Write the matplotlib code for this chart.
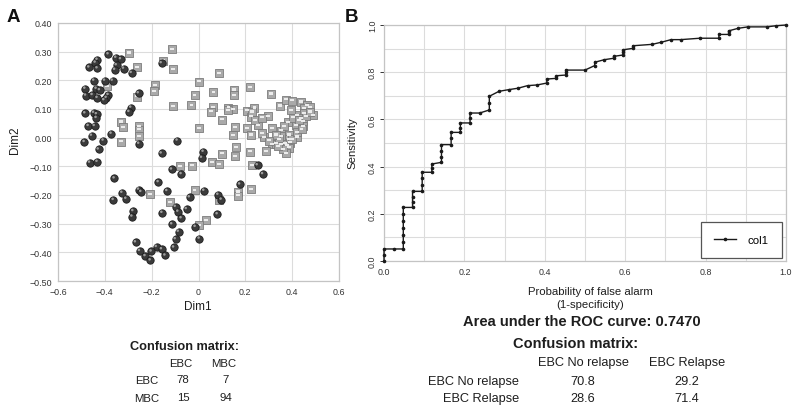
import matplotlib
matplotlib.use("Agg")
import matplotlib.pyplot as plt
from matplotlib.markers import MarkerStyle
from matplotlib.transforms import Affine2D

plt.rcParams['font.family'] = ['Liberation Sans', 'DejaVu Sans']

# ---------------- Panel A data ----------------
ebc_x = [-0.385, -0.352, -0.332, -0.432, -0.440, -0.467, -0.432, -0.350, -0.357, -0.319,
         -0.286, -0.158, -0.446, -0.400, -0.367, -0.484, -0.436, -0.422, -0.481, -0.453,
         -0.432, -0.385, -0.393, -0.403, -0.288, -0.296, -0.256, -0.484, -0.447, -0.435,
         -0.436, -0.470, -0.444, -0.456, -0.372, -0.487, -0.406, -0.427, -0.464, -0.432,
         -0.254, -0.090, -0.158, -0.359, -0.114, -0.073, 0.021, 0.014, 0.252, 0.275,
         0.177, -0.171, -0.326, -0.309, -0.363, -0.255, -0.245, -0.134, 0.024, -0.038,
         0.084, 0.098, 0.081, -0.155, -0.098, -0.087, -0.073, -0.051, -0.279, -0.283,
         -0.113, -0.085, -0.013, 0.004, -0.098, -0.105, -0.268, -0.251, -0.179, -0.157,
         -0.142, -0.201, -0.227, -0.205]
ebc_y = [0.291, 0.279, 0.274, 0.272, 0.262, 0.245, 0.242, 0.253, 0.237, 0.241,
         0.226, 0.260, 0.199, 0.199, 0.199, 0.171, 0.171, 0.166, 0.147, 0.149,
         0.139, 0.149, 0.139, 0.131, 0.105, 0.090, 0.155, 0.085, 0.087, 0.082,
         0.069, 0.041, 0.041, 0.007, 0.014, -0.015, -0.010, -0.041, -0.087, -0.084,
         -0.021, -0.010, -0.055, -0.142, -0.111, -0.127, -0.049, -0.070, -0.096, -0.127,
         -0.163, -0.155, -0.192, -0.213, -0.217, -0.181, -0.189, -0.186, -0.185, -0.208,
         -0.199, -0.216, -0.267, -0.262, -0.241, -0.258, -0.281, -0.249, -0.256, -0.275,
         -0.302, -0.328, -0.311, -0.352, -0.354, -0.383, -0.365, -0.395, -0.381, -0.389,
         -0.411, -0.397, -0.413, -0.428]

mbc_x = [-0.295, -0.114, -0.151, -0.261, -0.110, 0.088, -0.389, -0.184, -0.191, 0.003,
         -0.017, -0.261, 0.064, 0.152, 0.152, 0.221, 0.309, -0.108, -0.030, 0.061,
         0.053, 0.128, 0.148, 0.209, 0.239, 0.224, 0.295, 0.348, 0.373, 0.400,
         0.437, 0.464, 0.476, 0.489, 0.452, 0.419, 0.450, 0.439, 0.447, 0.382,
         0.416, 0.446, -0.330, -0.322, -0.254, -0.254, -0.256, -0.330, 0.003, 0.101,
         0.157, 0.208, 0.255, 0.224, 0.148, 0.281, 0.315, 0.352, 0.352, 0.386,
         0.419, 0.387, 0.312, 0.332, 0.352, 0.369, 0.392, 0.378, 0.385, 0.375,
         0.288, 0.162, 0.157, 0.219, 0.100, 0.058, 0.087, -0.080, -0.028, 0.228,
         0.224, 0.167, 0.170, -0.017, -0.209, -0.120, 0.087, 0.031, 0.004,
         0.395, 0.405, 0.430, 0.460, 0.475, 0.365, 0.345, 0.330, 0.400, 0.420,
         0.440, 0.360, 0.340, 0.300, 0.270, 0.240, 0.230, 0.125, 0.270]
mbc_y = [0.296, 0.308, 0.268, 0.246, 0.239, 0.225, 0.179, 0.184, 0.163, 0.195,
         0.148, 0.143, 0.159, 0.167, 0.148, 0.176, 0.153, 0.110, 0.114, 0.107,
         0.091, 0.105, 0.099, 0.094, 0.104, 0.073, 0.075, 0.111, 0.133, 0.129,
         0.125, 0.114, 0.107, 0.079, 0.103, 0.079, 0.085, 0.068, 0.057, 0.054,
         0.043, 0.040, 0.055, 0.036, 0.040, 0.028, 0.005, -0.014, 0.033, 0.063,
         0.037, 0.033, 0.043, 0.010, 0.008, 0.002, 0.033, 0.024, 0.005, 0.010,
         0.003, -0.006, -0.023, -0.021, -0.022, -0.021, -0.017, -0.028, -0.035, -0.054,
         -0.047, -0.033, -0.065, -0.049, -0.056, -0.086, -0.093, -0.100, -0.098, -0.096,
         -0.180, -0.189, -0.202, -0.183, -0.198, -0.226, -0.216, -0.288, -0.305,
         0.095, 0.070, 0.060, 0.075, 0.090, 0.040, -0.005, 0.010, -0.005, 0.020,
         0.030, -0.040, -0.030, -0.010, 0.015, 0.060, 0.090, 0.095, 0.070]

a_xticks = [-0.6, -0.4, -0.2, 0.0, 0.2, 0.4, 0.6]
a_xticklabels = ['\u22120.6', '\u22120.4', '\u22120.2', '0', '0.2', '0.4', '0.6']
a_yticks = [0.40, 0.30, 0.20, 0.10, 0.00, -0.10, -0.20, -0.30, -0.40, -0.50]
a_yticklabels = ['0.40', '0.30', '0.20', '0.10', '0.00', '\u22120.10', '\u22120.20',
                 '\u22120.30', '\u22120.40', '\u22120.50']

cmA_cols = ['EBC', 'MBC']
cmA_rows = ['EBC', 'MBC']
cmA_vals = [['78', '7'], ['15', '94']]

# ---------------- Panel B data ----------------
roc_fpr = [0.0, 0.0, 0.0, 0.024, 0.048, 0.048, 0.048, 0.048, 0.048, 0.048, 0.048,
           0.071, 0.071, 0.071, 0.071, 0.095, 0.095, 0.095, 0.095, 0.119, 0.119, 0.119,
           0.143, 0.143, 0.143, 0.143, 0.167, 0.167, 0.167, 0.190, 0.190, 0.190,
           0.214, 0.214, 0.214, 0.238, 0.262, 0.262, 0.262, 0.286, 0.310, 0.333,
           0.357, 0.381, 0.405, 0.405, 0.429, 0.429, 0.452, 0.452, 0.452, 0.500,
           0.524, 0.524, 0.548, 0.571, 0.571, 0.595, 0.595, 0.595, 0.619, 0.619,
           0.667, 0.690, 0.714, 0.738, 0.786, 0.833, 0.833, 0.857, 0.857, 0.881,
           0.905, 0.952, 0.976, 1.0]
roc_tpr = [0.0, 0.025, 0.051, 0.051, 0.051, 0.08, 0.11, 0.14, 0.17, 0.20, 0.227,
           0.227, 0.25, 0.27, 0.295, 0.295, 0.32, 0.35, 0.376, 0.376, 0.393, 0.411,
           0.418, 0.44, 0.465, 0.493, 0.493, 0.52, 0.545, 0.545, 0.565, 0.585,
           0.585, 0.605, 0.627, 0.627, 0.640, 0.67, 0.698, 0.719, 0.726, 0.732,
           0.743, 0.746, 0.754, 0.771, 0.774, 0.785, 0.788, 0.80, 0.809, 0.809,
           0.828, 0.842, 0.853, 0.859, 0.867, 0.873, 0.885, 0.895, 0.901, 0.912,
           0.918, 0.927, 0.938, 0.938, 0.944, 0.944, 0.960, 0.960, 0.975, 0.986,
           0.992, 0.992, 0.997, 1.0]
b_ticks = [0.0, 0.2, 0.4, 0.6, 0.8, 1.0]
b_ticklabels = ['0.0', '0.2', '0.4', '0.6', '0.8', '1.0']
b_minor = [0.1, 0.3, 0.5, 0.7, 0.9]
auc_text = 'Area under the ROC curve: 0.7470'
cmB_cols = ['EBC No relapse', 'EBC Relapse']
cmB_rows = ['EBC No relapse', 'EBC Relapse']
cmB_vals = [['70.8', '29.2'], ['28.6', '71.4']]

# ---------------- Figure ----------------
W, H = 800, 414
fig = plt.figure(figsize=(W / 100, H / 100), dpi=100)
fig.patch.set_facecolor('white')


def fx(px):
    return px / W


def fy(py):
    return 1 - py / H


grid_c = '#dcdcdc'
spine_c = '#c4c4c4'
txt_c = '#1e1e1e'

# ----- Panel A -----
axA = fig.add_axes([fx(58), fy(282), fx(339) - fx(58), fy(24) - fy(282)])
axA.set_xlim(-0.6, 0.6)
axA.set_ylim(-0.5, 0.4)
axA.set_xticks(a_xticks)
axA.set_xticklabels(a_xticklabels)
axA.set_yticks(a_yticks)
axA.set_yticklabels(a_yticklabels)
axA.tick_params(length=0, labelsize=6.4, colors='#333333', pad=4)
axA.grid(True, color=grid_c, lw=0.8)
axA.set_axisbelow(True)
for s in axA.spines.values():
    s.set_color(spine_c)
    s.set_linewidth(0.9)

# MBC squares
axA.scatter(mbc_x, mbc_y, s=26, marker='s', facecolor='#a9a9a9', edgecolor='#7c7c7c',
            linewidths=0.6, zorder=3)
hl_sq = MarkerStyle('s', transform=Affine2D().scale(0.55, 0.3).translate(0, 0.05))
axA.scatter(mbc_x, mbc_y, s=26, marker=hl_sq, facecolor='#ececec', edgecolor='none',
            zorder=4)
# EBC spheres
axA.scatter(ebc_x, ebc_y, s=28, marker='o', facecolor='#3b3b3b', edgecolor='#1c1c1c',
            linewidths=0.6, zorder=5)
hl_o = MarkerStyle('o', transform=Affine2D().scale(0.35).translate(-0.12, 0.14))
axA.scatter(ebc_x, ebc_y, s=28, marker=hl_o, facecolor='#9c9c9c', edgecolor='none',
            zorder=6)

fig.text(fx(13), fy(17), 'A', fontsize=13.5, fontweight='bold', ha='center', va='center',
         color='#111111')
fig.text(fx(15), fy(140), 'Dim2', fontsize=8.5, rotation=90, ha='center', va='center',
         color=txt_c)
fig.text(fx(198), fy(307), 'Dim1', fontsize=8.5, ha='center', va='center', color=txt_c)

fig.text(fx(185), fy(347), 'Confusion matrix:', fontsize=9.2, fontweight='bold',
         ha='center', va='center', color=txt_c)
colxA = [181, 224]
rowyA = [381, 399]
for j, c in enumerate(cmA_cols):
    fig.text(fx(colxA[j]), fy(364), c, fontsize=8.2, ha='center', va='center', color=txt_c)
for i, r in enumerate(cmA_rows):
    fig.text(fx(147), fy(rowyA[i]), r, fontsize=8.2, ha='center', va='center', color=txt_c)
    for j in range(2):
        fig.text(fx(colxA[j] + 2), fy(rowyA[i] - 1), cmA_vals[i][j], fontsize=8.2,
                 ha='center', va='center', color=txt_c)

# ----- Panel B -----
axB = fig.add_axes([fx(384), fy(262), fx(786) - fx(384), fy(26) - fy(262)])
axB.set_xlim(0, 1)
axB.set_ylim(0, 1)
axB.set_xticks(b_ticks)
axB.set_xticklabels(b_ticklabels)
axB.set_yticks(b_ticks)
axB.set_yticklabels(b_ticklabels, rotation=90, va='center')
axB.set_xticks(b_minor, minor=True)
axB.set_yticks(b_minor, minor=True)
axB.tick_params(axis='x', which='both', length=0, labelsize=6.4, colors='#333333', pad=4)
axB.tick_params(axis='y', which='major', length=3, width=0.7, labelsize=6.4,
                colors='#333333', pad=2)
axB.tick_params(axis='y', which='minor', length=0)
axB.grid(True, which='both', color=grid_c, lw=0.8)
axB.set_axisbelow(True)
for s in axB.spines.values():
    s.set_color(spine_c)
    s.set_linewidth(0.9)

axB.plot(roc_fpr, roc_tpr, color='#1a1a1a', lw=1.0, marker='.', ms=3.2, label='col1',
         zorder=3, clip_on=False)
leg = axB.legend(loc='lower right', bbox_to_anchor=(0.99, 0.013), borderaxespad=0,
                 fontsize=8.2, fancybox=False, framealpha=1, edgecolor='#555555',
                 borderpad=1.15, handlelength=2.0, handletextpad=1.0)
leg.get_frame().set_linewidth(0.9)

fig.text(fx(352), fy(143), 'Sensitivity', fontsize=8.2, rotation=90, ha='center',
         va='center', color=txt_c)
fig.text(fx(351), fy(17), 'B', fontsize=13.5, fontweight='bold', ha='center', va='center',
         color='#111111')
fig.text(fx(590), fy(292), 'Probability of false alarm', fontsize=8.2, ha='center',
         va='center', color=txt_c)
fig.text(fx(590), fy(305), '(1-specificity)', fontsize=8.2, ha='center', va='center',
         color=txt_c)
fig.text(fx(582), fy(322), auc_text, fontsize=10.5, fontweight='bold', ha='center',
         va='center', color=txt_c)
fig.text(fx(576), fy(344), 'Confusion matrix:', fontsize=10.5, fontweight='bold',
         ha='center', va='center', color=txt_c)
colxB = [583, 687]
rowyB = [382, 399]
for j, c in enumerate(cmB_cols):
    fig.text(fx(colxB[j]), fy(363), c, fontsize=9.2, ha='center', va='center', color=txt_c)
for i, r in enumerate(cmB_rows):
    fig.text(fx(519), fy(rowyB[i]), r, fontsize=9.2, ha='right', va='center', color=txt_c)
    for j in range(2):
        fig.text(fx(colxB[j]), fy(rowyB[i]), cmB_vals[i][j], fontsize=9.2, ha='center',
                 va='center', color=txt_c)

fig.savefig('out.png', dpi=100, facecolor='white')
